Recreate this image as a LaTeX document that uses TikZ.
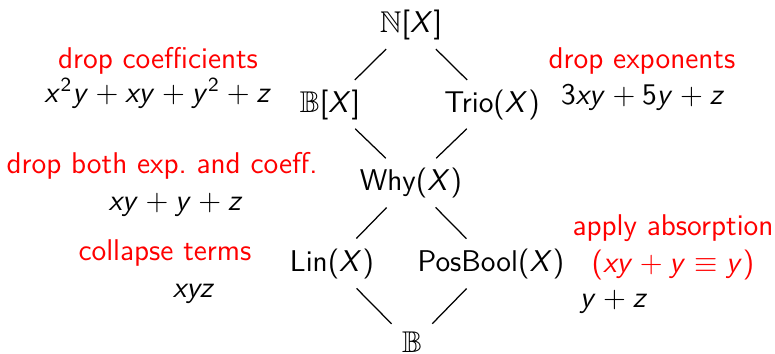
\documentclass[tikz,border=0pt]{standalone}
\usepackage{amssymb}
\DeclareSymbolFont{sfit}{OT1}{cmss}{m}{sl}
\DeclareSymbolFont{sfup}{OT1}{cmss}{m}{n}
\DeclareMathSymbol{x}{\mathalpha}{sfit}{`x}
\DeclareMathSymbol{y}{\mathalpha}{sfit}{`y}
\DeclareMathSymbol{z}{\mathalpha}{sfit}{`z}
\DeclareMathSymbol{X}{\mathalpha}{sfit}{`X}
\DeclareMathSymbol{2}{\mathalpha}{sfup}{`2}
\DeclareMathSymbol{3}{\mathalpha}{sfup}{`3}
\DeclareMathSymbol{5}{\mathalpha}{sfup}{`5}
\DeclareMathSymbol{(}{\mathopen}{sfup}{`\(}
\DeclareMathSymbol{)}{\mathclose}{sfup}{`\)}
\DeclareMathSymbol{[}{\mathopen}{sfup}{`\[}
\DeclareMathSymbol{]}{\mathclose}{sfup}{`\]}
\begin{document}
\begin{tikzpicture}[x=0.4pt,y=-0.4pt,
  font=\sffamily\fontsize{12}{14.5}\selectfont, inner sep=0pt,
  every node/.style={anchor=base},
  lat/.style={text height=9pt, text depth=3pt},
  lbl/.style={text=red},
  link/.style={line width=0.5pt, shorten <=14pt, shorten >=14pt},
  linkb/.style={line width=0.5pt, shorten <=14pt, shorten >=11.6pt}]
\useasboundingbox (0,0) rectangle (775,354);
% lattice
\node[lat] (N)  at (411,32)  {$\mathbb{N}[X]$};
\node[lat] (BX) at (330,112) {$\mathbb{B}[X]$};
\node[lat] (T)  at (492,112) {Trio$(X)$};
\node[lat] (W)  at (411,190) {Why$(X)$};
\node[lat] (L)  at (332,271) {Lin$(X)$};
\node[lat] (P)  at (491,271) {PosBool$(X)$};
\node[lat] (B)  at (412,352) {$\mathbb{B}$};
\draw[link] (N.center) -- (BX.center);
\draw[link] (N.center) -- (T.center);
\draw[link] (BX.center) -- (W.center);
\draw[link] (T.center) -- (W.center);
\draw[link] (W.center) -- (L.center);
\draw[link] (W.center) -- (P.center);
\draw[linkb] (L.center) -- (B.center);
\draw[linkb] (P.center) -- (B.center);
% labels
\node[lbl] (dc)  at (158,68)  {drop coefficients};
\node      (dcx) at (158,102) {$x^2y+xy+y^2+z$};
\node[lbl] (de)  at (642,68)  {drop exponents};
\node      (dex) at (643,104) {$3xy+5y+z$};
\node[lbl] (db)  at (162,173) {drop both exp.\ and coeff.};
\node      (dbx) at (176,210) {$xy+y+z$};
\node[lbl] (ct)  at (165,260) {collapse terms};
\node      (ctx) at (194,297) {$xyz$};
\node[lbl] (aa)  at (673,235) {apply absorption};
\node[lbl] (aax) at (673,272) {$(xy+y\equiv y)$};
\node      (yz)  at (614,307) {$y+z$};
\end{tikzpicture}
\end{document}
